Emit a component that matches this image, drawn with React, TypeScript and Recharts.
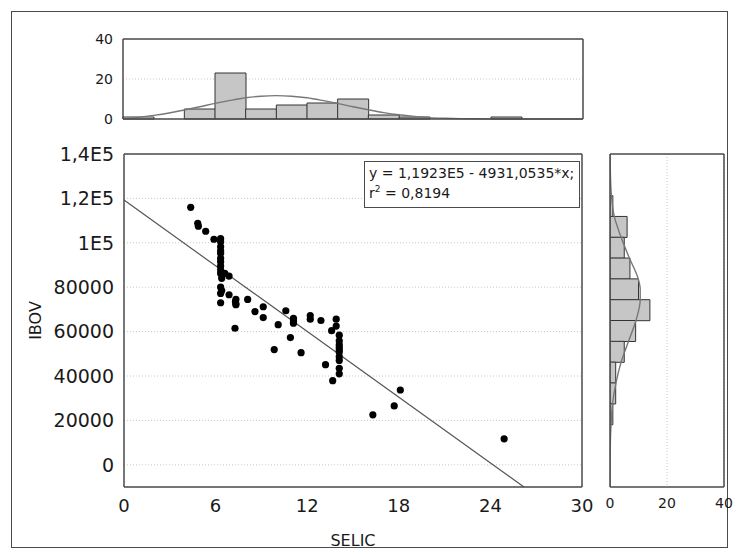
import React from "react";
import {
  ScatterChart,
  Scatter,
  ComposedChart,
  Bar,
  Line,
  Cell,
  XAxis,
  YAxis,
  CartesianGrid,
  ReferenceLine,
  Label,
} from "recharts";

const selic = [
  4.37, 4.83, 4.87, 5.35, 5.89, 6.33, 6.33, 6.33, 6.33, 6.33, 6.33, 6.33, 6.33,
  6.33, 6.33, 6.6, 6.88, 6.4, 6.33, 6.4, 6.33, 6.88, 6.33, 7.33, 7.33, 7.3, 7.33,
  7.27, 8.1, 8.58, 9.12, 9.12, 9.84, 10.1, 10.6, 11.1, 11.1, 10.9, 11.6, 11.1,
  12.2, 12.2, 12.9, 13.9, 13.9, 13.6, 13.2, 13.67, 14.1, 14.1, 14.1, 14.1, 14.1,
  14.1, 14.1, 14.1, 14.1, 14.1, 16.3, 17.7, 18.1, 24.9,
];
const ibov = [
  116000, 108800, 107500, 105200, 101600, 101900, 100500, 98200, 96400, 95300,
  93000, 91500, 89500, 87700, 86200, 86200, 85000, 84000, 80000, 78500, 77200,
  76600, 73000, 74500, 72100, 73500, 72500, 61500, 74500, 69000, 71200, 66300,
  51900, 63100, 69400, 66000, 63800, 57300, 50500, 64800, 67200, 65600, 65000,
  65600, 62500, 60400, 45100, 37900, 58400, 55800, 54000, 52800, 51700, 50800,
  48700, 47000, 43500, 41000, 22500, 26500, 33700, 11700,
];

// fitted line y = 1,1923E5 - 4931,0535*x (end points)
const fitX = [0, 26.2];
const fitY = [119230, -10000];

// top histogram (SELIC)
const selicBins = [
  "0-2", "2-4", "4-6", "6-8", "8-10", "10-12", "12-14", "14-16",
  "16-18", "18-20", "20-22", "22-24", "24-26", "26-28", "28-30",
];
const selicCounts = [1, 0, 5, 23, 5, 7, 8, 10, 2, 1, 0, 0, 1, 0, 0];
const selicCurveX = [0, 1, 2, 3, 4, 5, 6, 7, 8, 9, 10, 11, 12, 13, 14, 15, 16, 17, 18, 19, 20, 21, 22, 23, 24, 26, 28, 30];
const selicCurveV = [0.3, 0.8, 1.8, 3.0, 4.5, 6.1, 7.8, 9.3, 10.6, 11.4, 11.7, 11.4, 10.6, 9.3, 7.8, 6.1, 4.6, 3.2, 2.1, 1.3, 0.7, 0.4, 0.2, 0.1, 0.04, 0.01, 0, 0];

// right histogram (IBOV), top bin first
const ibovBins = [
  "130000-140000", "120000-130000", "110000-120000", "100000-110000",
  "90000-100000", "80000-90000", "70000-80000", "60000-70000", "50000-60000",
  "40000-50000", "30000-40000", "20000-30000", "10000-20000", "0-10000",
  "-10000-0", "-20000--10000",
];
const ibovCounts = [0, 0, 1, 6, 5, 7, 10, 14, 9, 5, 2, 2, 1, 0, 0, 0];
const ibovCurveY = [140000, 130000, 120000, 110000, 100000, 90000, 80000, 75000, 70000, 60000, 50000, 40000, 30000, 20000, 10000, 0, -10000, -20000];
const ibovCurveV = [0.05, 0.15, 0.5, 1.5, 3.9, 6.8, 9.9, 10.6, 10.6, 9.1, 6.5, 3.9, 2.1, 0.9, 0.35, 0.1, 0.03, 0];

// ticks
const selicTicks = [0, 6, 12, 18, 24, 30];
const selicMinor = [0, 1, 2, 3, 4, 5, 6, 7, 8, 9, 10, 11, 12, 13, 14, 15, 16, 17, 18, 19, 20, 21, 22, 23, 24, 25, 26, 27, 28, 29, 30];
const ibovTicks = [0, 20000, 40000, 60000, 80000, 100000, 120000, 140000];
const ibovTickLabels = ["0", "20000", "40000", "60000", "80000", "1E5", "1,2E5", "1,4E5"];
const ibovMinor = [-10000, 0, 10000, 20000, 30000, 40000, 50000, 60000, 70000, 80000, 90000, 100000, 110000, 120000, 130000, 140000];
const histTopTicks = [0, 20, 40];
const histTopMinor = [0, 2, 4, 6, 8, 10, 12, 14, 16, 18, 20, 22, 24, 26, 28, 30];
const histRightTicks = [0, 20, 40];
const histRightMinor = [-20000, 0, 20000, 40000, 60000, 80000, 100000, 120000, 140000];

const points = selic.map((x, i) => ({ x, y: ibov[i] }));
const topData = selicBins.map((bin, i) => ({ bin, count: selicCounts[i] }));
const topCurve = selicCurveX.map((x, i) => ({ x, v: selicCurveV[i] }));
const rightData = ibovBins.map((bin, i) => ({ bin, count: ibovCounts[i] }));
const rightCurve = ibovCurveY.map((y, i) => ({ y, v: ibovCurveV[i] }));

const FONT = "'DejaVu Sans', sans-serif";
const TXT = "#1a1a1a";
const AX = "#4a4a4a";
const GRID = "#c8c8c8";
const BAR = "#c6c6c6";

const Dot = (p: any) => <circle cx={p.cx} cy={p.cy} r={3.6} fill="#000" />;

export default function App() {
  return (
    <div style={{ position: "absolute", left: 0, top: 0, width: 738, height: 558, background: "#fff", fontFamily: FONT }}>
      {/* outer frame */}
      <div style={{ position: "absolute", left: 11, top: 11, width: 715, height: 535, border: `1px solid ${AX}` }} />

      {/* top histogram */}
      <div style={{ position: "absolute", left: 0, top: 0 }}>
        <ComposedChart width={600} height={140} data={topData} barCategoryGap={0} barGap={0}
          margin={{ top: 39, right: 17, bottom: 21, left: 43 }}>
          <CartesianGrid xAxisId="n" yAxisId="l" vertical={false} stroke={GRID} strokeDasharray="1 2" />
          <XAxis xAxisId="c" type="category" dataKey="bin" hide />
          <XAxis xAxisId="n" type="number" dataKey="x" domain={[0, 30]} allowDataOverflow mirror
            tick={false} tickLine={false} axisLine={{ stroke: AX, strokeWidth: 1.5 }} />
          <XAxis xAxisId="t" type="number" orientation="top" domain={[0, 30]} ticks={histTopMinor} mirror
            tick={false} tickSize={4} tickLine={{ stroke: AX }} axisLine={{ stroke: AX, strokeWidth: 1.5 }} />
          <YAxis yAxisId="l" type="number" domain={[0, 40]} ticks={histTopTicks} width={80} tickLine={false}
            tickSize={0} tickMargin={10} axisLine={{ stroke: AX, strokeWidth: 1.5 }}
            tick={{ fontSize: 14, fill: TXT, fontFamily: FONT }} />
          <YAxis yAxisId="r" type="number" orientation="right" domain={[0, 40]} mirror tick={false}
            tickLine={false} axisLine={{ stroke: AX, strokeWidth: 1.5 }} />
          <Bar xAxisId="c" yAxisId="l" dataKey="count" stroke="#333" strokeWidth={1} isAnimationActive={false}>
            {topData.map((d, i) => (
              <Cell key={d.bin} fill={i === 0 ? "#fff" : BAR} />
            ))}
          </Bar>
          <Line xAxisId="n" yAxisId="l" data={topCurve} dataKey="v" type="monotone" dot={false}
            stroke="#777" strokeWidth={1.4} isAnimationActive={false} />
        </ComposedChart>
      </div>

      {/* scatter */}
      <div style={{ position: "absolute", left: 0, top: 140 }}>
        <ScatterChart width={600} height={418} margin={{ top: 14, right: 18, bottom: 41, left: 44 }}>
          <CartesianGrid xAxisId="x" yAxisId="y" vertical={false} stroke={GRID} strokeDasharray="1 2" />
          <XAxis xAxisId="x" type="number" dataKey="x" domain={[0, 30]} ticks={selicTicks} allowDataOverflow
            height={30} tickLine={false} tickSize={0} tickMargin={12}
            axisLine={{ stroke: AX, strokeWidth: 1.5 }} tick={{ fontSize: 18, fill: TXT, fontFamily: FONT }}>
            <Label value="SELIC" position="center" dy={38} fontSize={16} fill={TXT} fontFamily={FONT} />
          </XAxis>
          <XAxis xAxisId="xm" type="number" domain={[0, 30]} ticks={selicMinor} mirror tick={false}
            tickSize={4} tickLine={{ stroke: AX }} axisLine={false} />
          <XAxis xAxisId="xt" type="number" orientation="top" domain={[0, 30]} ticks={selicMinor} mirror
            tick={false} tickSize={4} tickLine={{ stroke: AX }} axisLine={{ stroke: AX, strokeWidth: 1.5 }} />
          <YAxis yAxisId="y" type="number" dataKey="y" domain={[-10000, 140000]} ticks={ibovTicks}
            allowDataOverflow width={80} tickLine={false} tickSize={0} tickMargin={10}
            tickFormatter={(v: number) => ibovTickLabels[ibovTicks.indexOf(v)] ?? String(v)}
            axisLine={{ stroke: AX, strokeWidth: 1.5 }} tick={{ fontSize: 19, fill: TXT, fontFamily: FONT }}>
            <Label value="IBOV" position="center" angle={-90} dx={-49} fontSize={16} fill={TXT} fontFamily={FONT} />
          </YAxis>
          <YAxis yAxisId="ym" type="number" domain={[-10000, 140000]} ticks={ibovMinor} mirror tick={false}
            tickSize={4} tickLine={{ stroke: AX }} axisLine={false} />
          <YAxis yAxisId="yr" type="number" orientation="right" domain={[-10000, 140000]} ticks={ibovMinor}
            mirror tick={false} tickSize={4} tickLine={{ stroke: AX }} axisLine={{ stroke: AX, strokeWidth: 1.5 }} />
          <ReferenceLine xAxisId="x" yAxisId="y"
            segment={[{ x: fitX[0], y: fitY[0] }, { x: fitX[1], y: fitY[1] }]}
            stroke="#555" strokeWidth={1.2} />
          <Scatter xAxisId="x" yAxisId="y" data={points} dataKey="y" shape={Dot} isAnimationActive={false} />
        </ScatterChart>
      </div>

      {/* right histogram */}
      <div style={{ position: "absolute", left: 590, top: 140 }}>
        <ComposedChart width={148} height={418} data={rightData} layout="vertical" barCategoryGap={0} barGap={0}
          margin={{ top: 14, right: 14, bottom: 41, left: 20 }}>
          <CartesianGrid xAxisId="x" yAxisId="n" horizontal={false} stroke={GRID} strokeDasharray="1 2" />
          <XAxis xAxisId="x" type="number" domain={[0, 40]} ticks={histRightTicks} allowDataOverflow height={30}
            tickLine={false} tickSize={0} tickMargin={11} axisLine={{ stroke: AX, strokeWidth: 1.5 }}
            tick={{ fontSize: 14, fill: TXT, fontFamily: FONT }} />
          <XAxis xAxisId="t" type="number" orientation="top" domain={[0, 40]} ticks={[20]} mirror tick={false}
            tickSize={4} tickLine={{ stroke: AX }} axisLine={{ stroke: AX, strokeWidth: 1.5 }} />
          <YAxis yAxisId="c" type="category" dataKey="bin" hide />
          <YAxis yAxisId="n" type="number" dataKey="y" domain={[-20000, 140000]} ticks={histRightMinor}
            allowDataOverflow reversed mirror tick={false} tickSize={4} tickLine={{ stroke: AX }}
            axisLine={{ stroke: AX, strokeWidth: 1.5 }} />
          <YAxis yAxisId="r" type="number" orientation="right" domain={[-20000, 140000]} ticks={histRightMinor}
            reversed mirror tick={false} tickSize={4} tickLine={{ stroke: AX }}
            axisLine={{ stroke: AX, strokeWidth: 1.5 }} />
          <Bar xAxisId="x" yAxisId="c" dataKey="count" fill={BAR} stroke="#333" strokeWidth={1}
            isAnimationActive={false} />
          <Line xAxisId="x" yAxisId="n" data={rightCurve} dataKey="v" type="monotone" dot={false}
            stroke="#777" strokeWidth={1.4} isAnimationActive={false} />
        </ComposedChart>
      </div>

      {/* regression box */}
      <div style={{
        position: "absolute", left: 364, top: 161, width: 206, height: 43, padding: "1px 4px",
        border: `1px solid ${AX}`, background: "#fff", color: TXT, fontSize: 14, lineHeight: "20px",
        whiteSpace: "nowrap",
      }}>
        <div>y = 1,1923E5 - 4931,0535*x;</div>
        <div>r<sup style={{ fontSize: 9, lineHeight: 0 }}>2</sup> = 0,8194</div>
      </div>
    </div>
  );
}
